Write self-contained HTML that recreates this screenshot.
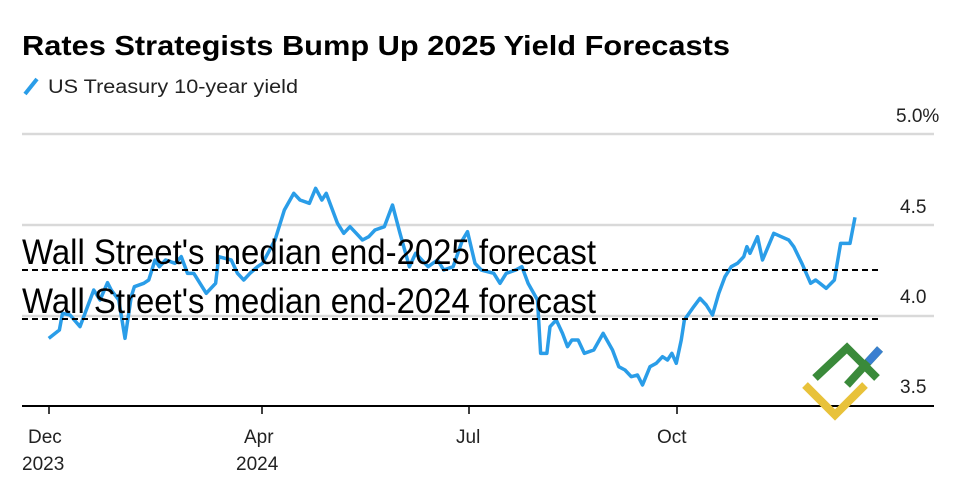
<!DOCTYPE html>
<html><head><meta charset="utf-8"><style>
body{margin:0;background:#fff;width:975px;height:485px;overflow:hidden}
svg text{font-family:"Liberation Sans",sans-serif}
</style></head><body>
<svg width="975" height="485" viewBox="0 0 975 485">
<text x="22" y="55" font-size="28" font-weight="bold" fill="#000" textLength="708" lengthAdjust="spacingAndGlyphs">Rates Strategists Bump Up 2025 Yield Forecasts</text>
<line x1="25" y1="94" x2="37" y2="79" stroke="#2a9de8" stroke-width="4"/>
<text x="48" y="93" font-size="19" fill="#222" textLength="250" lengthAdjust="spacingAndGlyphs">US Treasury 10-year yield</text>
<g stroke="#d9d9d9" stroke-width="2.5">
<line x1="22" y1="134" x2="934" y2="134"/>
<line x1="22" y1="225" x2="934" y2="225"/>
<line x1="22" y1="316" x2="934" y2="316"/>
</g>
<line x1="22" y1="406" x2="934" y2="406" stroke="#000" stroke-width="2"/>
<g stroke="#000" stroke-width="1.5">
<line x1="49" y1="406" x2="49" y2="414"/><line x1="262" y1="406" x2="262" y2="414"/>
<line x1="469" y1="406" x2="469" y2="414"/><line x1="677" y1="406" x2="677" y2="414"/>
</g>
<g font-size="19" fill="#222">
<text x="896" y="122">5.0%</text><text x="900" y="213">4.5</text><text x="900" y="303">4.0</text><text x="900" y="393">3.5</text>
<text x="28" y="443">Dec</text><text x="22" y="470">2023</text>
<text x="244" y="443">Apr</text><text x="236" y="470">2024</text>
<text x="456" y="443">Jul</text><text x="657" y="443">Oct</text>
</g>
<g transform="translate(0,100) scale(0.625,0.33333)">
<polyline fill="none" stroke="#2a9de8" stroke-width="3.5" vector-effect="non-scaling-stroke" stroke-linejoin="round" points="78,715 95,690 100,640 112,645 128,680 150,570 160,600 172,548 178,570 190,600 200,715 210,590 215,560 230,550 238,540 248,480 255,500 265,480 280,490 290,470 300,520 310,520 320,550 330,580 345,550 350,470 370,480 380,520 390,540 400,520 412,500 420,490 440,420 455,330 470,280 480,300 495,310 505,265 515,300 522,280 540,370 550,400 560,380 570,400 580,420 590,410 600,390 615,380 628,315 640,400 655,500 665,460 685,500 700,480 710,510 725,500 740,420 748,395 760,490 770,510 790,520 800,550 810,520 825,510 835,500 845,550 860,600 865,760 875,760 880,680 890,660 900,700 908,740 915,720 925,720 935,760 950,750 965,700 980,750 990,800 1000,810 1010,830 1020,825 1028,855 1040,800 1050,790 1060,770 1068,780 1075,760 1082,790 1090,720 1095,660 1110,620 1120,595 1130,615 1140,645 1150,580 1160,530 1170,500 1180,490 1190,470 1195,440 1200,460 1212,410 1220,480 1238,400 1250,410 1262,420 1270,440 1283,490 1297,550 1305,540 1312,550 1322,565 1335,540 1345,430 1360,430 1368,352"/>
</g>
<g stroke="#000" stroke-width="2" stroke-dasharray="6,4">
<line x1="22" y1="270" x2="882" y2="270"/><line x1="22" y1="319" x2="882" y2="319"/>
</g>
<g font-size="35" fill="#000">
<text x="22" y="264" textLength="574" lengthAdjust="spacingAndGlyphs">Wall Street's median end-2025 forecast</text>
<text x="22" y="313" textLength="574" lengthAdjust="spacingAndGlyphs">Wall Street's median end-2024 forecast</text>
</g>
<polyline points="805,385 835,415 865,385" fill="none" stroke="#e8c23a" stroke-width="8"/>
<polyline points="815,378 847,348 877,378" fill="none" stroke="#3a8a3a" stroke-width="8"/>
<line x1="847" y1="385" x2="880" y2="349" stroke="#3a8a3a" stroke-width="8"/>
<line x1="868" y1="362" x2="880" y2="349" stroke="#3a7fd0" stroke-width="8"/>
</svg>
</body></html>
